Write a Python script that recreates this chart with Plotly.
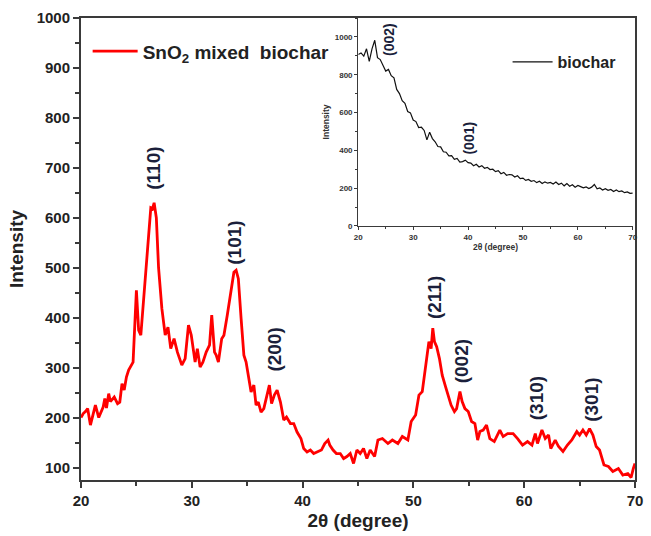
import plotly.graph_objects as go

# Main pattern: SnO2 mixed biochar
x_main = [20.0, 20.2, 20.4, 20.6, 20.85, 21.1, 21.3, 21.6, 21.85, 22.0, 22.15, 22.3, 22.5, 22.65, 23.0,
          23.3, 23.5, 23.7, 23.9, 24.1, 24.3, 24.5, 24.7, 25.0, 25.2, 25.4, 25.6, 25.85, 26.1, 26.3,
          26.45, 26.6, 26.8, 27.0, 27.3, 27.6, 27.85, 28.1, 28.4, 28.7, 29.1, 29.4, 29.7, 29.95, 30.3,
          30.5, 30.75, 31.0, 31.3, 31.6, 31.8, 32.05, 32.2, 32.4, 32.7, 32.9, 33.2, 33.55, 33.8, 34.0,
          34.2, 34.45, 34.7, 34.9, 35.1, 35.35, 35.6, 35.8, 36.0, 36.25, 36.5, 36.8, 37.0, 37.2, 37.45,
          37.7, 38.0, 38.3, 38.55, 38.9, 39.2, 39.5, 39.85, 40.1, 40.4, 40.7, 41.0, 41.3, 41.7, 42.0,
          42.3, 42.45, 42.75, 43.05, 43.4, 43.7, 44.0, 44.3, 44.6, 44.9, 45.2, 45.5, 45.8, 46.1, 46.5,
          46.8, 47.2, 47.7, 48.1, 48.6, 49.0, 49.5, 49.8, 50.2, 50.5, 50.8, 51.2, 51.4, 51.6, 51.75,
          51.9, 52.1, 52.35, 52.6, 52.9, 53.2, 53.4, 53.7, 53.9, 54.2, 54.4, 54.65, 54.95, 55.25, 55.55,
          55.8, 56.0, 56.3, 56.6, 56.9, 57.3, 57.8, 58.1, 58.5, 59.0, 59.4, 59.85, 60.3, 60.7, 61.0,
          61.2, 61.6, 61.9, 62.2, 62.4, 62.8, 63.1, 63.5, 63.9, 64.3, 64.75, 65.0, 65.3, 65.6, 65.9,
          66.2, 66.5, 66.8, 67.2, 67.6, 68.0, 68.5, 68.9, 69.35, 69.65, 69.85, 70.0]
y_main = [200, 208, 212, 218, 185, 208, 225, 200, 215, 221, 238, 219, 248, 232, 241,
          228, 231, 268, 255, 281, 295, 302, 311, 455, 375, 365, 425, 480, 560, 620,
          618, 630, 600, 500, 418, 365, 381, 338, 358, 331, 305, 318, 385, 365, 311,
          338, 301, 311, 331, 345, 405, 331, 325, 311, 358, 365, 405, 451, 491, 495,
          478, 398, 325, 311, 285, 251, 265, 225, 231, 211, 218, 245, 265, 228, 245,
          255, 231, 195, 201, 188, 188, 171, 158, 138, 131, 135, 128, 131, 135, 148,
          155, 145, 135, 128, 128, 118, 122, 128, 108, 135, 128, 138, 118, 135, 122,
          155, 158, 148, 155, 148, 162, 155, 192, 205, 245, 252, 325, 352, 338, 379,
          352, 342, 318, 285, 262, 238, 225, 212, 218, 252, 232, 218, 212, 192, 188,
          155, 172, 175, 185, 158, 152, 175, 162, 168, 168, 158, 145, 152, 145, 168,
          148, 175, 158, 165, 138, 155, 142, 132, 145, 155, 172, 165, 175, 165, 178,
          165, 142, 135, 105, 102, 92, 98, 85, 88, 80, 98, 108]

# Inset pattern: biochar
x_inset = [20 + 0.5 * i for i in range(101)]
y_inset = [907, 915, 898, 937, 871, 937, 982, 890, 880, 845, 819, 828, 795, 783, 722, 700, 662, 648, 605, 598,
           560, 552, 520, 522, 505, 455, 496, 462, 445, 420, 418, 392, 390, 371, 372, 352, 357, 338, 340, 348,
           335, 332, 318, 326, 312, 319, 305, 310, 298, 300, 287, 292, 276, 283, 268, 272, 270, 259, 265, 250,
           253, 241, 246, 236, 240, 229, 236, 224, 233, 226, 230, 222, 232, 219, 226, 212, 224, 210, 218, 205,
           214, 208, 201, 206, 198, 205, 219, 196, 201, 190, 197, 188, 193, 182, 190, 181, 185, 176, 180, 172, 173]

main_ticks = [20, 30, 40, 50, 60, 70]
peak_labels = ["(110)", "(101)", "(200)", "(211)", "(002)", "(310)", "(301)"]
peak_x = [26.58, 33.85, 37.46, 51.85, 54.31, 61.08, 66.0]
peak_y = [700, 551, 337, 441, 313, 239, 235]
inset_labels = ["(002)", "(001)"]
inset_lx = [25.5, 40.2]
inset_ly = [986, 463]

FONT = "Arial, 'Liberation Sans', sans-serif"
AX = "#3a3a3a"

fig = go.Figure()
fig.add_trace(go.Scatter(x=x_main, y=y_main, mode="lines", name="SnO<sub>2</sub> mixed  biochar",
                         line=dict(color="#ff0000", width=2.8), legend="legend", showlegend=True))
fig.add_trace(go.Scatter(x=x_inset, y=y_inset, mode="lines", name="biochar",
                         line=dict(color="#111111", width=1.2), xaxis="x2", yaxis="y2", legend="legend2",
                         showlegend=True))

for t, x, y in zip(peak_labels, peak_x, peak_y):
    fig.add_annotation(x=x, y=y, xref="x", yref="y", text="<b>" + t + "</b>", textangle=-90, showarrow=False,
                       font=dict(family=FONT, size=19, color="#1b1f3b"))
for t, x, y in zip(inset_labels, inset_lx, inset_ly):
    fig.add_annotation(x=x, y=y, xref="x2", yref="y2", text="<b>" + t + "</b>", textangle=-90, showarrow=False,
                       font=dict(family=FONT, size=14, color="#1b1f3b"))

fig.update_layout(
    width=651, height=536,
    showlegend=True,
    margin=dict(l=81, r=8, t=18, b=54),
    paper_bgcolor="white", plot_bgcolor="white",
    font=dict(family=FONT, color="#222"),
    xaxis=dict(range=[20, 70], tickvals=main_ticks, ticks="outside", ticklen=6, tickwidth=2, tickcolor=AX,
               showline=True, linewidth=2, linecolor=AX, mirror=True, showgrid=False, zeroline=False,
               tickfont=dict(size=15, family=FONT, color="#222", weight="bold"),
               minor=dict(ticks="outside", ticklen=4, tickwidth=1.5, tickcolor=AX, dtick=5, tick0=0, showgrid=False),
               title=dict(text="<b>2θ (degree)</b>", font=dict(size=19, family=FONT, color="#222"), standoff=6)),
    yaxis=dict(range=[75, 1000], tick0=0, dtick=100, ticks="outside", ticklen=6, tickwidth=2, tickcolor=AX,
               showline=True, linewidth=2, linecolor=AX, mirror=True, showgrid=False, zeroline=False,
               tickfont=dict(size=15, family=FONT, color="#222", weight="bold"),
               minor=dict(ticks="outside", ticklen=4, tickwidth=1.5, tickcolor=AX, dtick=50, tick0=0, showgrid=False),
               title=dict(text="<b>Intensity</b>", font=dict(size=19, family=FONT, color="#222"), standoff=8)),
    xaxis2=dict(domain=[0.5005, 0.996], anchor="y2", range=[20, 70], tickvals=main_ticks, ticks="outside",
                ticklen=3, tickwidth=1, tickcolor=AX, showline=True, linewidth=1.2, linecolor=AX,
                showgrid=False, zeroline=False,
                tickfont=dict(size=8, family=FONT, color="#333", weight="bold"),
                minor=dict(ticks="outside", ticklen=2, tickwidth=1, tickcolor=AX, dtick=5, tick0=0),
                title=dict(text="<b>2θ (degree)</b>", font=dict(size=8.5, family=FONT, color="#333"), standoff=2)),
    yaxis2=dict(domain=[0.55, 1.0], anchor="x2", range=[0, 1100], tick0=0, dtick=200, ticks="outside",
                ticklen=3, tickwidth=1, tickcolor=AX, showline=True, linewidth=1.2, linecolor=AX,
                showgrid=False, zeroline=False,
                tickfont=dict(size=8, family=FONT, color="#333", weight="bold"),
                minor=dict(ticks="outside", ticklen=2, tickwidth=1, tickcolor=AX, dtick=100, tick0=0),
                title=dict(text="<b>Intensity</b>", font=dict(size=8.5, family=FONT, color="#333"), standoff=3)),
    legend=dict(x=0.012, y=0.928, xanchor="left", yanchor="middle", bgcolor="rgba(0,0,0,0)",
                font=dict(size=19, family=FONT, color="#222", weight="bold"), itemwidth=45, visible=True),
    legend2=dict(x=0.77, y=0.905, xanchor="left", yanchor="middle", bgcolor="rgba(0,0,0,0)",
                 font=dict(size=16, family=FONT, color="#222", weight="bold"), itemwidth=40, visible=True),
)

fig.write_html("out.html")
